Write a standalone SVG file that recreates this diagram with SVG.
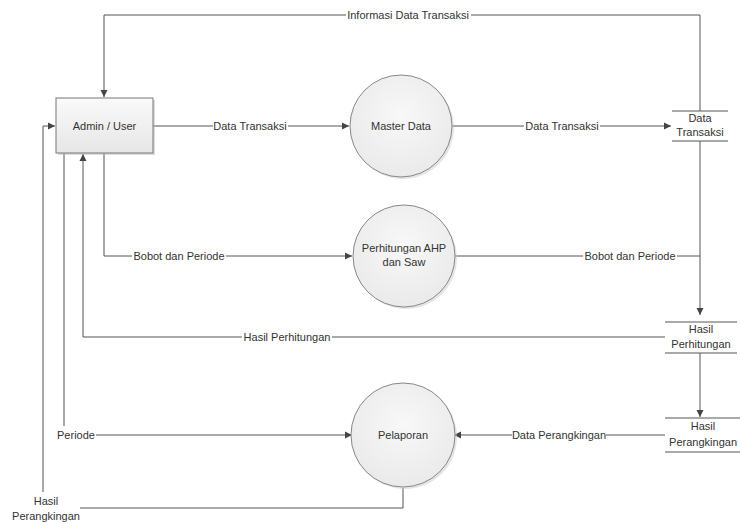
<svg xmlns="http://www.w3.org/2000/svg" width="740" height="524" viewBox="0 0 740 524">
<defs>
<linearGradient id="gb" x1="0" y1="0" x2="0" y2="1"><stop offset="0" stop-color="#fafafa"/><stop offset="1" stop-color="#e6e6e6"/></linearGradient>
<radialGradient id="gc" cx="0.5" cy="0.4" r="0.6"><stop offset="0" stop-color="#f8f8f8"/><stop offset="1" stop-color="#eaeaea"/></radialGradient>
<marker id="ah" markerWidth="8" markerHeight="8" refX="7" refY="4" orient="auto" markerUnits="userSpaceOnUse"><path d="M0,0.5 L7,4 L0,7.5 Z" fill="#444"/></marker>
</defs>
<style>
text{font-family:"Liberation Sans",Arial,sans-serif;font-size:11px;fill:#333}
.c{text-anchor:middle}
.ln{fill:none;stroke:#555;stroke-width:1}
.ar{fill:none;stroke:#555;stroke-width:1;marker-end:url(#ah)}
.st{stroke:#555;stroke-width:1}
.lb{fill:#fff}
</style>
<rect width="740" height="524" fill="#fff"/>
<g id="connectors">
<path class="ar" d="M700,111 V15 H104 V97"/>
<rect class="lb" x="346" y="9" width="125" height="12"/>
<text class="c" x="408" y="19">Informasi Data Transaksi</text>
<path class="ar" d="M153,126 H349"/>
<rect class="lb" x="213" y="120" width="75" height="12"/>
<text class="c" x="250" y="130">Data Transaksi</text>
<path class="ar" d="M452,126 H671"/>
<rect class="lb" x="524" y="120" width="76" height="12"/>
<text class="c" x="562" y="130">Data Transaksi</text>
<path class="ln" d="M104,153 V256"/>
<path class="ar" d="M104,256 H352"/>
<rect class="lb" x="132" y="250" width="94" height="12"/>
<text class="c" x="179" y="260">Bobot dan Periode</text>
<path class="ln" d="M455,256 H700"/>
<path class="ar" d="M700,141 V315"/>
<rect class="lb" x="583" y="250" width="94" height="12"/>
<text class="c" x="630" y="260">Bobot dan Periode</text>
<path class="ar" d="M665,337 H83 V154"/>
<rect class="lb" x="242" y="331" width="90" height="12"/>
<text class="c" x="287" y="341">Hasil Perhitungan</text>
<path class="ar" d="M700,353 V417"/>
<path class="ar" d="M665,435 H454"/>
<rect class="lb" x="512" y="429" width="94" height="12"/>
<text class="c" x="559" y="439">Data Perangkingan</text>
<path class="ln" d="M64,153 V426"/>
<path class="ar" d="M96,435 H352"/>
<text class="c" x="76" y="439">Periode</text>
<path class="ln" d="M403,488 V508 H80"/>
<path class="ar" d="M43,492 V126 H55"/>
<text class="c" x="46" y="505">Hasil</text>
<text class="c" x="46" y="520">Perangkingan</text>
</g>
<g id="admin">
<rect x="58" y="100" width="97" height="55" fill="#bbb" opacity="0.5"/>
<rect x="56" y="98" width="97" height="55" fill="url(#gb)" stroke="#777" stroke-width="1"/>
<text class="c" x="104.5" y="130">Admin / User</text>
</g>
<g id="master">
<circle cx="403" cy="128" r="51" fill="#ccc" opacity="0.5"/>
<circle cx="401" cy="126" r="51" fill="url(#gc)" stroke="#888" stroke-width="1"/>
<text class="c" x="401" y="130">Master Data</text>
</g>
<g id="ahp">
<circle cx="406" cy="258" r="51" fill="#ccc" opacity="0.5"/>
<circle cx="404" cy="256" r="51" fill="url(#gc)" stroke="#888" stroke-width="1"/>
<text class="c" x="404" y="252">Perhitungan AHP</text>
<text class="c" x="404" y="266">dan Saw</text>
</g>
<g id="pelaporan">
<circle cx="405" cy="437" r="52" fill="#ccc" opacity="0.5"/>
<circle cx="403" cy="435" r="52" fill="url(#gc)" stroke="#888" stroke-width="1"/>
<text class="c" x="403" y="439">Pelaporan</text>
</g>
<g id="store-transaksi">
<line class="st" x1="672" y1="111" x2="728" y2="111"/>
<line class="st" x1="672" y1="141" x2="728" y2="141"/>
<text class="c" x="700" y="122">Data</text>
<text class="c" x="700" y="136">Transaksi</text>
</g>
<g id="store-perhitungan">
<line class="st" x1="665" y1="322" x2="737" y2="322"/>
<line class="st" x1="665" y1="353" x2="737" y2="353"/>
<text class="c" x="701" y="333">Hasil</text>
<text class="c" x="701" y="348">Perhitungan</text>
</g>
<g id="store-perangkingan">
<line class="st" x1="665" y1="418" x2="740" y2="418"/>
<line class="st" x1="665" y1="452" x2="740" y2="452"/>
<text class="c" x="703" y="430">Hasil</text>
<text x="737" y="446" text-anchor="end">Perangkingan</text>
</g>
</svg>
